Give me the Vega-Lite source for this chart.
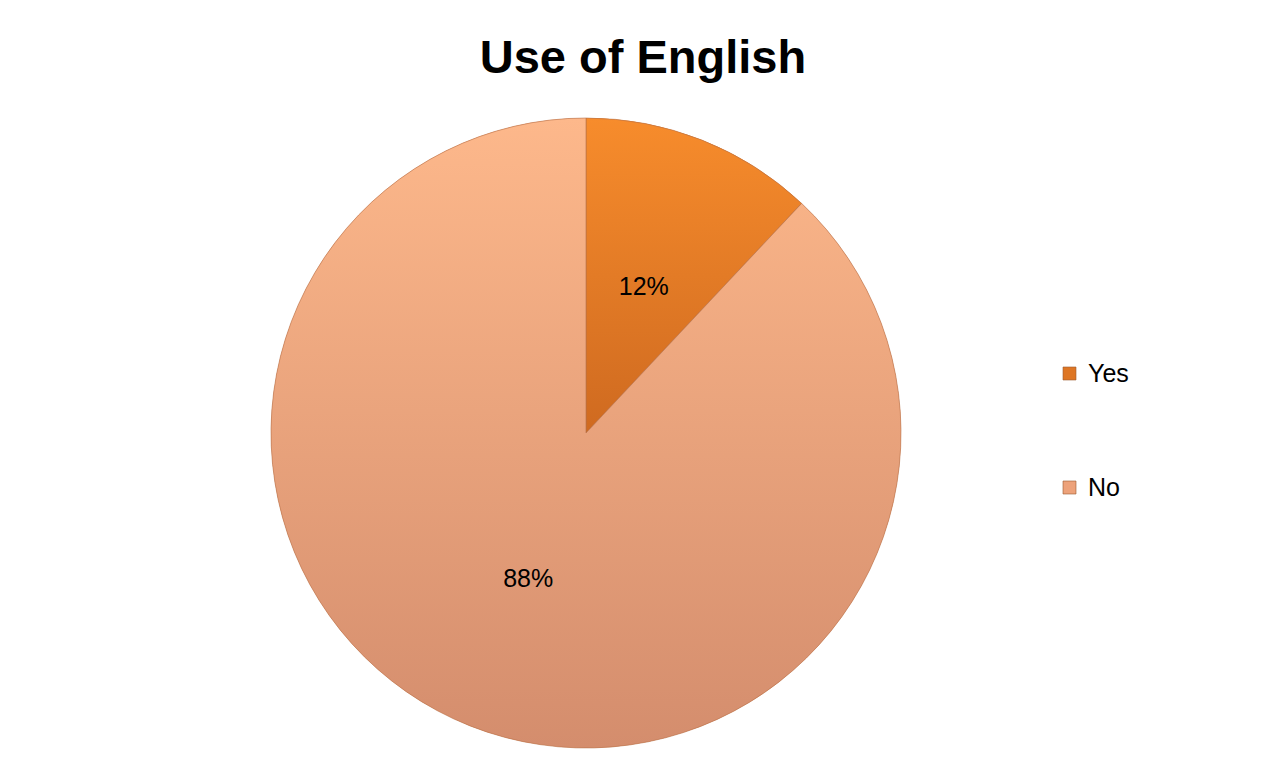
{
  "$schema": "https://vega.github.io/schema/vega-lite/v6.json",
  "autosize": {"type": "none"},
  "width": 630,
  "height": 630,
  "padding": {"left": 271, "top": 118, "right": 371, "bottom": 23},
  "background": "white",
  "config": {"view": {"stroke": null}, "font": "Liberation Sans"},
  "title": {
    "text": "Use of English",
    "fontSize": 47,
    "fontWeight": "bold",
    "font": "Liberation Sans",
    "color": "#000000",
    "anchor": "middle",
    "dx": 57,
    "offset": 34
  },
  "data": {
    "values": [
      {"answer": "Yes", "share": 0.12},
      {"answer": "No", "share": 0.88}
    ]
  },
  "encoding": {
    "theta": {"field": "share", "type": "quantitative", "stack": true},
    "order": {"field": "answer", "sort": "descending"}
  },
  "layer": [
    {
      "mark": {"type": "arc", "outerRadius": 315},
      "encoding": {
        "color": {
          "field": "answer",
          "type": "nominal",
          "scale": {"domain": ["Yes", "No"], "range": ["#DE7624", "#EDA27A"]},
          "legend": {
            "title": null,
            "orient": "none",
            "legendX": 786,
            "legendY": 243,
            "symbolType": "square",
            "symbolSize": 169,
            "symbolStrokeColor": "#9a5a30",
            "symbolStrokeWidth": 0.6,
            "labelFontSize": 25,
            "labelFont": "Liberation Sans",
            "labelColor": "#000000",
            "rowPadding": 88,
            "labelOffset": 6
          }
        }
      }
    },
    {
      "mark": {"type": "arc", "outerRadius": 315, "stroke": "#b77048", "strokeWidth": 0.6},
      "encoding": {
        "fill": {
          "condition": {
            "test": "datum.answer === 'Yes'",
            "value": {
              "gradient": "linear", "x1": 0, "y1": 0, "x2": 0, "y2": 1,
              "stops": [
                {"offset": 0, "color": "#F78C2C"},
                {"offset": 1, "color": "#CF6A20"}
              ]
            }
          },
          "value": {
            "gradient": "linear", "x1": 0, "y1": 0, "x2": 0, "y2": 1,
            "stops": [
              {"offset": 0, "color": "#FDB88B"},
              {"offset": 1, "color": "#D48D6D"}
            ]
          }
        }
      }
    },
    {
      "mark": {"type": "text", "radius": 157, "fontSize": 25, "font": "Liberation Sans", "color": "#000000"},
      "encoding": {
        "text": {"field": "share", "type": "quantitative", "format": ".0%"}
      }
    }
  ]
}
